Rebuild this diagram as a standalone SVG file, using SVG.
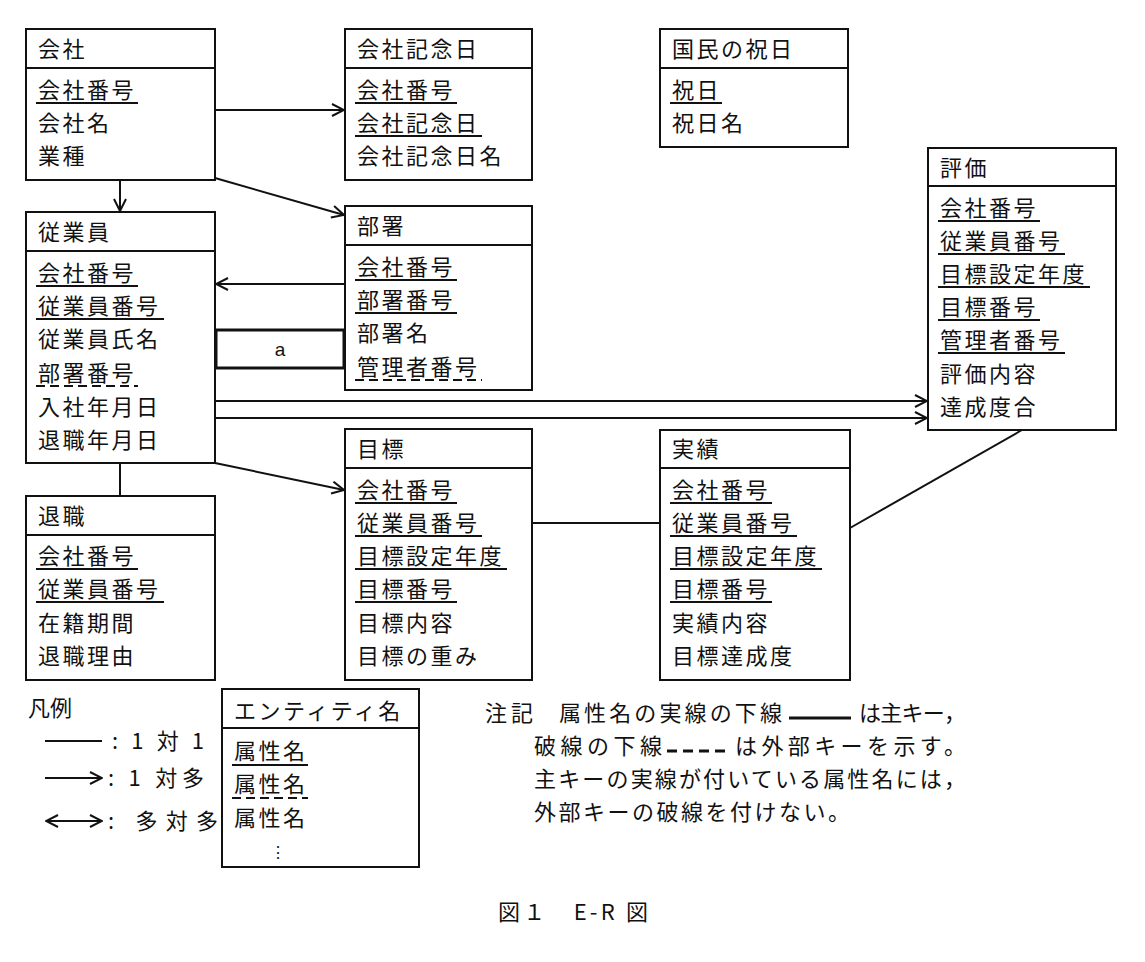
<svg xmlns="http://www.w3.org/2000/svg" width="1145" height="962" viewBox="0 0 1145 962">
<style>
text{font-family:"Noto Sans CJK JP","Noto Sans",sans-serif;font-size:22px;letter-spacing:2.5px;fill:#111}
.n{letter-spacing:0}
.b{fill:#fff;stroke:#111;stroke-width:2}
.l{stroke:#111;stroke-width:2;fill:none}
.u{stroke:#111;stroke-width:2}
.d{stroke:#111;stroke-width:2;stroke-dasharray:9,5}
</style>
<defs>
<marker id="ar" viewBox="0 0 14 14" refX="13" refY="7" markerWidth="14" markerHeight="14" markerUnits="userSpaceOnUse" orient="auto-start-reverse">
<path d="M1,1 L13,7 L1,13" fill="none" stroke="#111" stroke-width="2"/>
</marker>
</defs>
<g id="connectors">
<line class="l" x1="215" y1="110" x2="344" y2="110" marker-end="url(#ar)"/>
<line class="l" x1="120" y1="180" x2="120" y2="211" marker-end="url(#ar)"/>
<line class="l" x1="215" y1="178" x2="344" y2="215" marker-end="url(#ar)"/>
<line class="l" x1="345" y1="284" x2="216" y2="284" marker-end="url(#ar)"/>
<line class="l" x1="215" y1="401" x2="927" y2="401" marker-end="url(#ar)"/>
<line class="l" x1="215" y1="418" x2="927" y2="418" marker-end="url(#ar)"/>
<line class="l" x1="215" y1="463" x2="344" y2="490" marker-end="url(#ar)"/>
<line class="l" x1="120" y1="463" x2="120" y2="496"/>
<line class="l" x1="532" y1="523" x2="660" y2="523"/>
<line class="l" x1="850" y1="528" x2="1022" y2="430"/>
</g>
<g id="a">
<rect x="216" y="330" width="128" height="38" fill="#fff" stroke="#111" stroke-width="3"/>
<text x="280" y="356" text-anchor="middle" class="n" style="font-family:'Liberation Sans',sans-serif;font-size:19px">a</text>
</g>
<g id="kaisha">
<rect class="b" x="26" y="29" width="189" height="151"/><line class="u" x1="26" y1="68" x2="215" y2="68"/>
<text x="38" y="57">会社</text>
<text x="38" y="98">会社番号</text><line class="u" x1="36" y1="103" x2="138" y2="103"/>
<text x="38" y="131">会社名</text>
<text x="38" y="164">業種</text>
</g>
<g id="kinenbi">
<rect class="b" x="345" y="29" width="187" height="151"/><line class="u" x1="345" y1="68" x2="532" y2="68"/>
<text x="357" y="57">会社記念日</text>
<text x="357" y="98">会社番号</text><line class="u" x1="355" y1="103" x2="457" y2="103"/>
<text x="357" y="131">会社記念日</text><line class="u" x1="355" y1="136" x2="482" y2="136"/>
<text x="357" y="164">会社記念日名</text>
</g>
<g id="shukujitsu">
<rect class="b" x="660" y="29" width="188" height="118"/><line class="u" x1="660" y1="68" x2="848" y2="68"/>
<text x="672" y="57">国民の祝日</text>
<text x="672" y="98">祝日</text><line class="u" x1="670" y1="103" x2="722" y2="103"/>
<text x="672" y="131">祝日名</text>
</g>
<g id="hyoka">
<rect class="b" x="928" y="148" width="188" height="282"/><line class="u" x1="928" y1="186" x2="1116" y2="186"/>
<text x="940" y="176">評価</text>
<text x="940" y="216">会社番号</text><line class="u" x1="938" y1="221" x2="1040" y2="221"/>
<text x="940" y="249">従業員番号</text><line class="u" x1="938" y1="254" x2="1065" y2="254"/>
<text x="940" y="282">目標設定年度</text><line class="u" x1="938" y1="287" x2="1090" y2="287"/>
<text x="940" y="315">目標番号</text><line class="u" x1="938" y1="320" x2="1040" y2="320"/>
<text x="940" y="348">管理者番号</text><line class="u" x1="938" y1="353" x2="1065" y2="353"/>
<text x="940" y="382">評価内容</text>
<text x="940" y="415">達成度合</text>
</g>
<g id="jugyoin">
<rect class="b" x="26" y="212" width="189" height="251"/><line class="u" x1="26" y1="251" x2="215" y2="251"/>
<text x="38" y="240">従業員</text>
<text x="38" y="281">会社番号</text><line class="u" x1="36" y1="286" x2="138" y2="286"/>
<text x="38" y="314">従業員番号</text><line class="u" x1="36" y1="319" x2="164" y2="319"/>
<text x="38" y="347">従業員氏名</text>
<text x="38" y="381">部署番号</text><line class="d" x1="36" y1="386" x2="138" y2="386"/>
<text x="38" y="415">入社年月日</text>
<text x="38" y="448">退職年月日</text>
</g>
<g id="busho">
<rect class="b" x="345" y="206" width="187" height="184"/><line class="u" x1="345" y1="245" x2="532" y2="245"/>
<text x="357" y="234">部署</text>
<text x="357" y="275">会社番号</text><line class="u" x1="355" y1="280" x2="457" y2="280"/>
<text x="357" y="308">部署番号</text><line class="u" x1="355" y1="313" x2="457" y2="313"/>
<text x="357" y="341">部署名</text>
<text x="357" y="375">管理者番号</text><line class="d" x1="355" y1="380" x2="482" y2="380"/>
</g>
<g id="mokuhyo">
<rect class="b" x="345" y="429" width="187" height="251"/><line class="u" x1="345" y1="468" x2="532" y2="468"/>
<text x="357" y="457">目標</text>
<text x="357" y="498">会社番号</text><line class="u" x1="355" y1="503" x2="457" y2="503"/>
<text x="357" y="531">従業員番号</text><line class="u" x1="355" y1="536" x2="482" y2="536"/>
<text x="357" y="564">目標設定年度</text><line class="u" x1="355" y1="569" x2="507" y2="569"/>
<text x="357" y="597">目標番号</text><line class="u" x1="355" y1="602" x2="457" y2="602"/>
<text x="357" y="631">目標内容</text>
<text x="357" y="664">目標の重み</text>
</g>
<g id="jisseki">
<rect class="b" x="660" y="430" width="190" height="250"/><line class="u" x1="660" y1="468" x2="850" y2="468"/>
<text x="672" y="457">実績</text>
<text x="672" y="498">会社番号</text><line class="u" x1="670" y1="503" x2="772" y2="503"/>
<text x="672" y="531">従業員番号</text><line class="u" x1="670" y1="536" x2="797" y2="536"/>
<text x="672" y="564">目標設定年度</text><line class="u" x1="670" y1="569" x2="822" y2="569"/>
<text x="672" y="597">目標番号</text><line class="u" x1="670" y1="602" x2="772" y2="602"/>
<text x="672" y="631">実績内容</text>
<text x="672" y="664">目標達成度</text>
</g>
<g id="taishoku">
<rect class="b" x="26" y="496" width="189" height="184"/><line class="u" x1="26" y1="535" x2="215" y2="535"/>
<text x="38" y="524">退職</text>
<text x="38" y="564">会社番号</text><line class="u" x1="36" y1="569" x2="138" y2="569"/>
<text x="38" y="597">従業員番号</text><line class="u" x1="36" y1="602" x2="164" y2="602"/>
<text x="38" y="631">在籍期間</text>
<text x="38" y="664">退職理由</text>
</g>
<g id="legend">
<text x="28" y="716" class="n">凡例</text>
<line class="l" x1="45" y1="741" x2="102" y2="741"/>
<text x="112" y="749" class="n" textLength="92" lengthAdjust="spacing">: 1 対 1</text>
<line class="l" x1="45" y1="778" x2="102" y2="778" marker-end="url(#ar)"/>
<text x="108" y="786" class="n" textLength="96" lengthAdjust="spacing">: 1 対多</text>
<line class="l" x1="46" y1="821" x2="102" y2="821" marker-start="url(#ar)" marker-end="url(#ar)"/>
<text x="108" y="829" class="n" textLength="110" lengthAdjust="spacing">: 多対多</text>
<rect class="b" x="222" y="689" width="197" height="178"/><line class="u" x1="222" y1="728" x2="419" y2="728"/>
<text x="234" y="719">エンティティ名</text>
<text x="234" y="759">属性名</text><line class="u" x1="232" y1="765" x2="308" y2="765"/>
<text x="234" y="792">属性名</text><line class="d" x1="232" y1="798" x2="308" y2="798"/>
<text x="234" y="826">属性名</text>
<text x="270" y="858" class="n" style="font-size:16px">⋮</text>
</g>
<g id="note">
<text x="485" y="721" class="n" textLength="48">注記</text>
<text x="559" y="721" class="n" textLength="223" lengthAdjust="spacing">属性名の実線の下線</text>
<line class="u" x1="789" y1="718" x2="851" y2="718" style="stroke-width:3"/>
<text x="859" y="721" class="n" textLength="107" lengthAdjust="spacing">は主キー，</text>
<text x="534" y="754" class="n" textLength="128" lengthAdjust="spacing">破線の下線</text>
<line class="d" x1="667" y1="751" x2="728" y2="751" style="stroke-width:3;stroke-dasharray:10,6"/>
<text x="735" y="754" class="n" textLength="231" lengthAdjust="spacing">は外部キーを示す。</text>
<text x="534" y="787" class="n" textLength="432" lengthAdjust="spacing">主キーの実線が付いている属性名には，</text>
<text x="534" y="820" class="n" textLength="316" lengthAdjust="spacing">外部キーの破線を付けない。</text>
</g>
<text id="caption" x="498" y="920" class="n" textLength="150" lengthAdjust="spacing">図１　E-R 図</text>
</svg>
